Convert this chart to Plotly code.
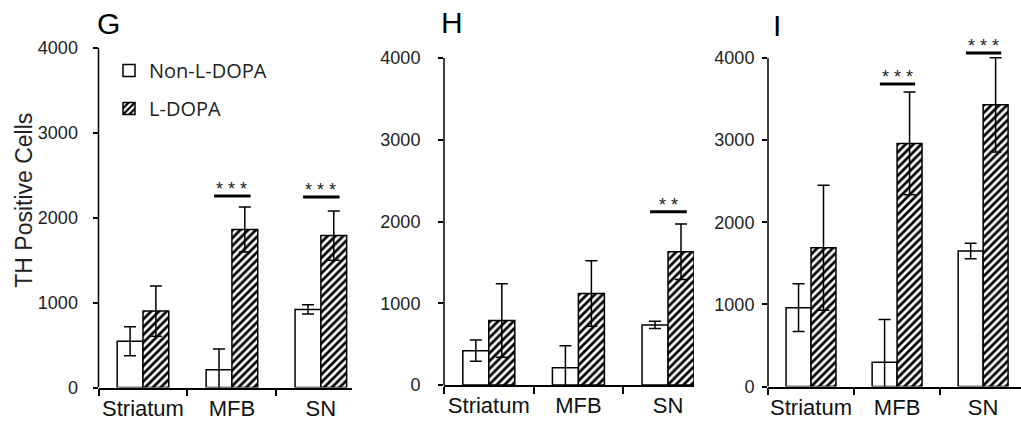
import plotly.graph_objects as go

categories = ["Striatum", "MFB", "SN"]
y_ticks = [0, 1000, 2000, 3000, 4000]
panel_labels = ["G", "H", "I"]
y_title = "TH Positive Cells"

G_non = [545, 210, 920]
G_non_err = [170, 245, 55]
G_ldopa = [900, 1860, 1790]
G_ldopa_err = [295, 265, 290]

H_non = [420, 210, 735]
H_non_err = [130, 270, 45]
H_ldopa = [790, 1120, 1630]
H_ldopa_err = [450, 400, 340]

I_non = [960, 295, 1650]
I_non_err = [290, 520, 95]
I_ldopa = [1690, 2960, 3430]
I_ldopa_err = [760, 625, 575]

# significance: (category, bar height, stars)
G_sig = [("MFB", 2255, "***"), ("SN", 2245, "***")]
H_sig = [("SN", 2120, "**")]
I_sig = [("MFB", 3685, "***"), ("SN", 4060, "***")]

panels = [
    (G_non, G_non_err, G_ldopa, G_ldopa_err, G_sig),
    (H_non, H_non_err, H_ldopa, H_ldopa_err, H_sig),
    (I_non, I_non_err, I_ldopa, I_ldopa_err, I_sig),
]

W, H = 1021, 427
# layout geometry (pixels)
x_doms = [(98.5, 352), (444, 694), (768, 1021)]
x_ranges = [[-0.5, 2.35], [-0.5, 2.29], [-0.5, 2.44]]
y_doms = [(387.5, 14), (385, 25.3), (386.5, 25.2)]
y_max = 4400
standoffs = [11, 14, 4]
label_pos = [(108, 24), (452, 23), (777, 26)]

FONT = "Liberation Sans, Arial, sans-serif"
fig = go.Figure()

for i, (non, non_err, ld, ld_err, sig) in enumerate(panels):
    sfx = "" if i == 0 else str(i + 1)
    xa, ya = "x" + sfx, "y" + sfx
    fig.add_trace(go.Bar(
        x=categories, y=non, name="Non-L-DOPA", legendgroup="non",
        showlegend=(i == 0), xaxis=xa, yaxis=ya,
        marker=dict(color="white", line=dict(color="black", width=1.5)),
        error_y=dict(type="data", array=non_err, color="black", thickness=1.5, width=6),
    ))
    fig.add_trace(go.Bar(
        x=categories, y=ld, name="L-DOPA", legendgroup="ld",
        showlegend=(i == 0), xaxis=xa, yaxis=ya,
        marker=dict(color="white", line=dict(color="black", width=1.5),
                    pattern=dict(shape="/", fgcolor="black", fgopacity=1, bgcolor="white",
                                 size=5.5, solidity=0.5)),
        error_y=dict(type="data", array=ld_err, color="black", thickness=1.5, width=6),
    ))
    xd = x_doms[i]
    yd = y_doms[i]
    fig.layout["xaxis" + sfx] = dict(
        domain=[xd[0] / W, xd[1] / W], range=x_ranges[i], anchor=ya,
        type="category", showline=True, linecolor="black", linewidth=1.5,
        ticks="outside", tickson="boundaries", ticklen=7, tickwidth=1.5, tickcolor="black",
        tickangle=0,
        tickfont=dict(family=FONT, size=22, color="#111"), showgrid=False, zeroline=False,
    )
    fig.layout["yaxis" + sfx] = dict(
        domain=[(H - yd[0]) / H, (H - yd[1]) / H], range=[0, y_max], anchor=xa,
        tickvals=y_ticks, ticks="outside", ticklen=5, tickwidth=1.5, tickcolor="black",
        showline=False, showgrid=False, zeroline=False, ticklabelstandoff=standoffs[i],
        tickfont=dict(family=FONT, size=18, color="#222"),
    )
    fig.add_shape(type="line", xref=xa + " domain", x0=0, x1=0, yref=ya,
                  y0=0, y1=max(y_ticks), line=dict(color="black", width=1.5))
    for cat, yv, stars in sig:
        ci = categories.index(cat)
        fig.add_shape(type="line", xref=xa, yref=ya, x0=ci - 0.2, x1=ci + 0.21,
                      y0=yv, y1=yv, line=dict(color="black", width=3))
        fig.add_annotation(x=ci, y=yv, xref=xa, yref=ya, text=" ".join(stars),
                           showarrow=False, yanchor="bottom", yshift=-5,
                           font=dict(family=FONT, size=18, color="#222"))
    lx, ly = label_pos[i]
    fig.add_annotation(x=lx / W, y=(H - ly) / H, xref="paper", yref="paper",
                       text=panel_labels[i], showarrow=False, xanchor="center", yanchor="middle",
                       font=dict(family=FONT, size=30, color="black"))

# y-axis title of panel G
fig.add_annotation(x=24 / W, y=0.5, xref="paper", yref="y domain", text=y_title,
                   textangle=-90, showarrow=False, xanchor="center", yanchor="middle",
                   font=dict(family=FONT, size=23, color="#222"))

fig.update_layout(
    width=W, height=H, margin=dict(l=0, r=0, t=0, b=0, autoexpand=False),
    paper_bgcolor="white", plot_bgcolor="white",
    barmode="group", bargap=0.42, bargroupgap=0,
    legend=dict(x=109 / W, y=(H - 51) / H, xanchor="left", yanchor="top",
                font=dict(family="Open Sans, sans-serif", size=20, color="#222"),
                bgcolor="rgba(0,0,0,0)", traceorder="grouped", tracegroupgap=9),
    showlegend=True,
)

fig.write_html("out.html", config={"displayModeBar": False},
               post_script="document.body.style.margin='0';document.body.style.overflow='hidden';")
